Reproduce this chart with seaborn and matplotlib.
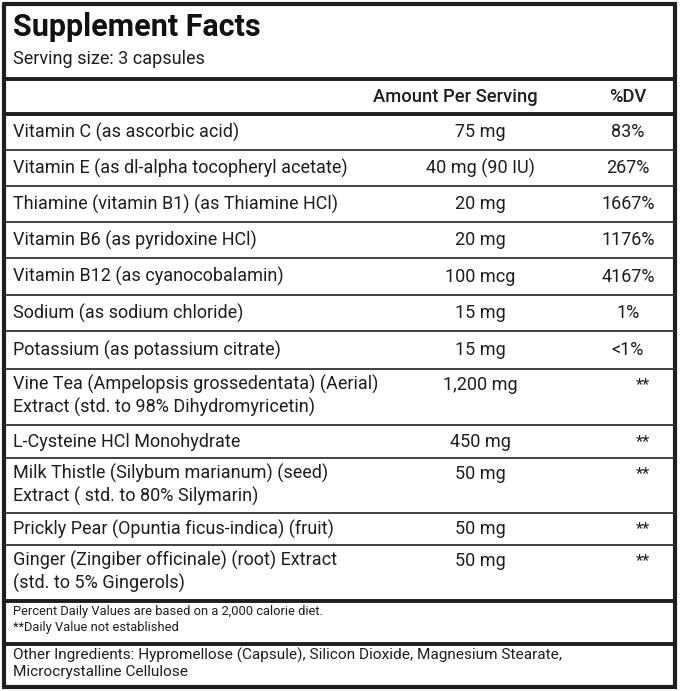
import matplotlib.pyplot as plt
import seaborn as sns

# Table content
title = "Supplement Facts"
serving = "Serving size: 3 capsules"
col_headers = ["Amount Per Serving", "%DV"]

ingredients = [
    ["Vitamin C (as ascorbic acid)"],
    ["Vitamin E (as dl-alpha tocopheryl acetate)"],
    ["Thiamine (vitamin B1) (as Thiamine HCl)"],
    ["Vitamin B6 (as pyridoxine HCl)"],
    ["Vitamin B12 (as cyanocobalamin)"],
    ["Sodium (as sodium chloride)"],
    ["Potassium (as potassium citrate)"],
    ["Vine Tea (Ampelopsis grossedentata) (Aerial)", "Extract (std. to 98% Dihydromyricetin)"],
    ["L-Cysteine HCl Monohydrate"],
    ["Milk Thistle (Silybum marianum) (seed)", "Extract ( std. to 80% Silymarin)"],
    ["Prickly Pear (Opuntia ficus-indica) (fruit)"],
    ["Ginger (Zingiber officinale) (root) Extract", "(std. to 5% Gingerols)"],
]
amounts = ["75 mg", "40 mg (90 IU)", "20 mg", "20 mg", "100 mcg", "15 mg", "15 mg",
           "1,200 mg", "450 mg", "50 mg", "50 mg", "50 mg"]
dv = ["83%", "267%", "1667%", "1176%", "4167%", "1%", "<1%", "**", "**", "**", "**", "**"]

footnotes = ["Percent Daily Values are based on a 2,000 calorie diet.",
             "**Daily Value not established"]
other = ["Other Ingredients: Hypromellose (Capsule), Silicon Dioxide, Magnesium Stearate,",
         "Microcrystalline Cellulose"]

# layout (pixels)
W, H = 680, 691
row_edges = [114, 150, 186, 222, 258, 295, 331, 369, 425, 458, 513, 545, 601]
x_left = 13
x_amount = 480
x_dv = 628

sns.set_theme(style="white")
plt.rcParams['font.family'] = ['Roboto', 'DejaVu Sans']

fig = plt.figure(figsize=(W / 100, H / 100), dpi=100)
ax = fig.add_axes([0, 0, 1, 1])
ax.set_xlim(0, W)
ax.set_ylim(H, 0)
ax.axis('off')

ink = '#1e1e1e'

# outer frame
ax.plot([4, 675, 675, 4, 4], [4, 4, 687, 687, 4], color=ink, lw=3, solid_joinstyle='miter')

# thick rules
for y in [79, 114, 601, 644]:
    ax.hlines(y, 4, 675, color=ink, lw=2.8)
# thin rules between ingredient rows
for y in row_edges[1:-1]:
    ax.hlines(y, 4, 675, color='#333333', lw=1.3)

# title block
ax.text(x_left, 27, title, fontsize=22, fontweight='bold', color='#111111', va='center')
ax.text(x_left, 59, serving, fontsize=13, color=ink, va='center')

# column headers
ax.text(455, 97, col_headers[0], fontsize=13.2, fontweight='medium', color=ink, ha='center', va='center')
ax.text(628, 97, col_headers[1], fontsize=13.2, fontweight='medium', color=ink, ha='center', va='center')

fs = 13
for i, lines in enumerate(ingredients):
    top, bot = row_edges[i], row_edges[i + 1]
    if len(lines) == 1:
        ys = [(top + bot) / 2]
    else:
        ys = [top + 15.5, top + 38.5]
    for line, y in zip(lines, ys):
        ax.text(x_left, y, line, fontsize=fs, color=ink, va='center')
    ax.text(x_amount, ys[0], amounts[i], fontsize=fs, color=ink, ha='center', va='center')
    if dv[i] == "**":
        ax.text(643, ys[0], dv[i], fontsize=12, color=ink, ha='center', va='center')
    else:
        ax.text(x_dv, ys[0], dv[i], fontsize=fs, color=ink, ha='center', va='center')

# footnotes
ax.text(x_left, 612, footnotes[0], fontsize=9.3, color=ink, va='center')
ax.text(x_left, 628, footnotes[1], fontsize=9.3, color=ink, va='center')

# other ingredients
ax.text(x_left, 655, other[0], fontsize=11.1, color=ink, va='center')
ax.text(x_left, 672, other[1], fontsize=11.1, color=ink, va='center')

fig.savefig('out.png', dpi=100, facecolor='white')
